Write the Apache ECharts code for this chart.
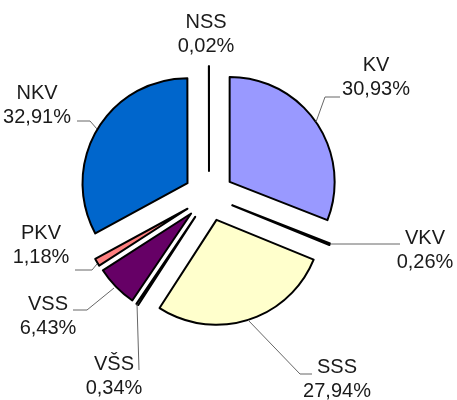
<!DOCTYPE html>
<html>
<head>
<meta charset="utf-8">
<script src="https://cdn.jsdelivr.net/npm/echarts@6/dist/echarts.min.js"></script>
<style>
  html, body { margin: 0; padding: 0; background: #fff; }
  #chart { width: 457px; height: 400px; }
</style>
</head>
<body>
<div id="chart"></div>
<script>
// kategorie a podíly (%)
const categories = ['KV', 'VKV', 'SSS', 'VŠS', 'VSS', 'PKV', 'NKV', 'NSS'];
const shares = [30.93, 0.26, 27.94, 0.34, 6.43, 1.18, 32.91, 0.02];
const colors = ['#9999FF', '#993366', '#FFFFCC', '#CCFFFF', '#660066', '#FF8080', '#0066CC', '#CCCCFF'];

// umístění popisků (střed bloku) a vodicí čáry
const labelPos = [
  { x: 376, y: 77, line: [[316, 122], [325, 97], [340, 97]] },
  { x: 425, y: 250, line: [[330, 244], [400, 244]] },
  { x: 337, y: 379, line: [[248, 320], [300, 374], [312, 374]] },
  { x: 114, y: 376, line: [[137, 304], [139, 370]] },
  { x: 48, y: 316, line: [[114, 288], [87, 310], [73, 310]] },
  { x: 41, y: 245, line: [[97, 264], [92, 270], [75, 270]] },
  { x: 37, y: 105, line: [[97, 129], [90, 121], [77, 121]] },
  { x: 206, y: 34, line: [[209, 66], [209, 65]] }
];

const chart = echarts.init(document.getElementById('chart'));

const pieBase = {
  type: 'pie',
  center: [209, 196],
  radius: 105,
  startAngle: 90,
  clockwise: true,
  avoidLabelOverlap: false,
  emphasis: { disabled: true }
};

const option = {
  animation: false,
  series: [
    // výseče (vysunuté)
    Object.assign({}, pieBase, {
      selectedMode: 'multiple',
      selectedOffset: 25,
      itemStyle: {
        borderColor: '#000',
        borderWidth: 2
      },
      label: { show: false },
      labelLine: { show: false },
      data: categories.map(function (name, i) {
        return {
          name: name,
          value: shares[i],
          selected: true,
          itemStyle: { color: colors[i] }
        };
      })
    }),
    // popisky
    Object.assign({}, pieBase, {
      silent: true,
      z: 5,
      itemStyle: { color: 'rgba(0,0,0,0)', borderWidth: 0 },
      label: {
        show: true,
        position: 'outside',
        fontFamily: 'Liberation Sans, Arial, sans-serif',
        fontSize: 20,
        lineHeight: 24,
        color: '#1a1a1a',
        formatter: function (p) {
          return p.name + '\n' + p.value.toFixed(2).replace('.', ',') + '%';
        }
      },
      labelLine: {
        show: true,
        lineStyle: { color: '#666', width: 1 }
      },
      labelLayout: function (params) {
        const pos = labelPos[params.dataIndex];
        return {
          x: pos.x,
          y: pos.y,
          align: 'center',
          verticalAlign: 'middle',
          labelLinePoints: pos.line
        };
      },
      data: categories.map(function (name, i) {
        return { name: name, value: shares[i] };
      })
    })
  ]
};

chart.setOption(option);
</script>
</body>
</html>
